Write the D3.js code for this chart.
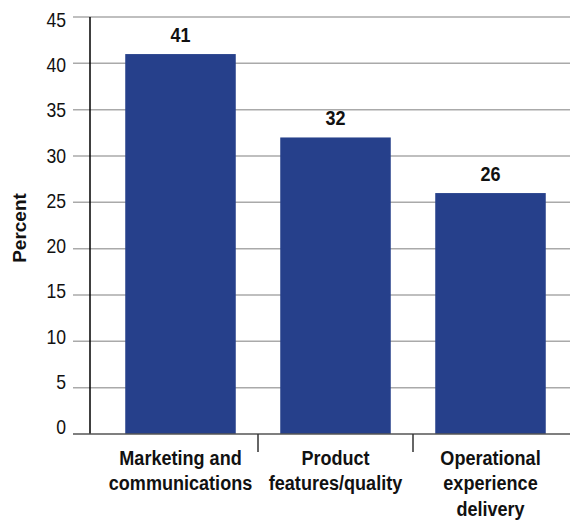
<!DOCTYPE html>
<html><head><meta charset="utf-8">
<script src="https://cdn.jsdelivr.net/npm/d3@7"></script>
<style>body{margin:0;background:#fff}svg{display:block}</style>
</head><body>
<svg id="c" width="571" height="523"></svg>
<script>
const categories = [["Marketing and","communications"],["Product","features/quality"],["Operational","experience","delivery"]];
const values = [41, 32, 26];
const yTicks = [0,5,10,15,20,25,30,35,40,45];

const font = "'Liberation Sans',Arial,Helvetica,sans-serif";
const svg = d3.select("#c");
const x = d3.scaleBand().domain(d3.range(categories.length)).range([103, 568]).paddingInner(0.287).paddingOuter(0.1435);
const y = d3.scaleLinear().domain([0,45]).range([434, 17]);
// tick labels in the reference sit on a slightly tighter spacing than the gridlines
const yLab = d3.scaleLinear().domain([0,45]).range([427, 19.7]);

// gridlines
svg.append("g").selectAll("line").data(yTicks.filter(d=>d>0)).join("line")
  .attr("x1",73).attr("x2",570).attr("y1",d=>y(d)).attr("y2",d=>y(d))
  .attr("stroke","#aaaaaa").attr("stroke-width",1.5);

// bars
svg.append("g").selectAll("rect").data(values).join("rect")
  .attr("x",(d,i)=>x(i)).attr("width",x.bandwidth())
  .attr("y",d=>y(d)).attr("height",d=>y(0)-y(d)).attr("fill","#26408b");

// y axis
svg.append("line").attr("x1",90).attr("x2",90).attr("y1",y(45)).attr("y2",y(0)).attr("stroke","#000").attr("stroke-width",1.5);
// baseline
svg.append("line").attr("x1",73).attr("x2",570).attr("y1",y(0)).attr("y2",y(0)).attr("stroke","#555").attr("stroke-width",1.5);
// separators
const gap = (x.step()-x.bandwidth())/2;
svg.append("g").selectAll("line").data([1,2]).join("line")
  .attr("x1",i=>x(i)-gap).attr("x2",i=>x(i)-gap)
  .attr("y1",y(0)).attr("y2",y(0)+18).attr("stroke","#333").attr("stroke-width",1.5);

// y tick labels
svg.append("g").selectAll("text").data(yTicks).join("text")
  .attr("transform",d=>`translate(66,${yLab(d)}) scale(0.88,1)`)
  .attr("dy","0.36em").attr("text-anchor","end")
  .attr("font-family",font).attr("font-size",20).attr("fill","#111").text(d=>d);

// value labels
svg.append("g").selectAll("text").data(values).join("text")
  .attr("transform",(d,i)=>`translate(${x(i)+x.bandwidth()/2},${y(d)-12}) scale(0.9,1)`)
  .attr("text-anchor","middle")
  .attr("font-family",font).attr("font-weight","bold").attr("font-size",20).attr("fill","#111").text(d=>d);

// category labels
categories.forEach((lines,i)=>{
  const t = svg.append("text").attr("text-anchor","middle").attr("font-family",font)
    .attr("transform",`translate(${x(i)+x.bandwidth()/2},0) scale(0.86,1)`)
    .attr("font-weight","bold").attr("font-size",21).attr("fill","#111");
  lines.forEach((l,j)=>t.append("tspan").attr("x",0).attr("y",465+j*25.5).text(l));
});

// y label
svg.append("text").attr("transform","translate(26,228) rotate(-90)").attr("text-anchor","middle")
  .attr("font-family",font).attr("font-weight","bold").attr("font-size",19).attr("fill","#111").text("Percent");
</script>
</body></html>
